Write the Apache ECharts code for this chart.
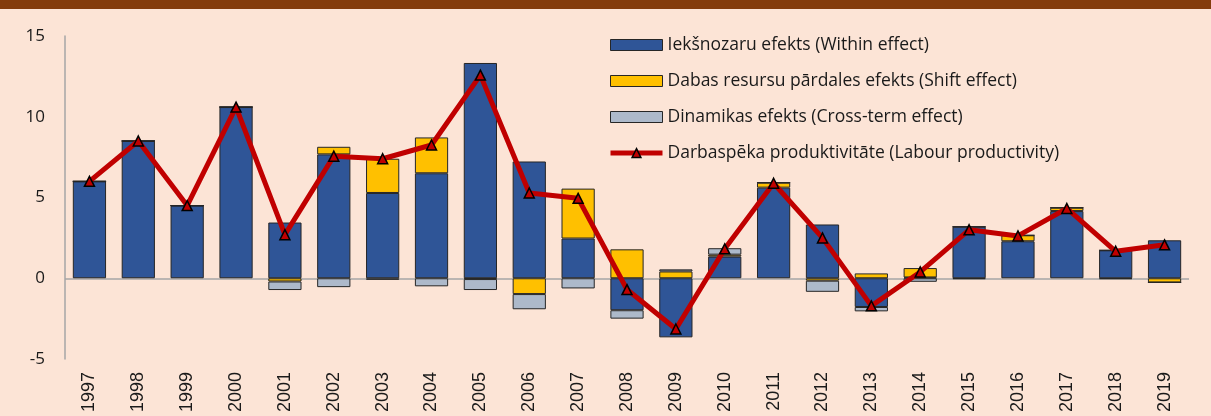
<!DOCTYPE html>
<html>
<head>
<meta charset="utf-8">
<script src="https://cdn.jsdelivr.net/npm/echarts@6/dist/echarts.min.js"></script>
<style>
  html, body { margin: 0; padding: 0; background: #FCE4D6; }
  #chart { width: 1211px; height: 416px; }
</style>
</head>
<body>
<div id="chart"></div>
<script>
var years = ["1997", "1998", "1999", "2000", "2001", "2002", "2003", "2004", "2005", "2006", "2007", "2008",
    "2009", "2010", "2011", "2012", "2013", "2014", "2015", "2016", "2017", "2018", "2019"];

// Iekšnozaru efekts (Within effect)
var withinEffect = [6.0, 8.5, 4.5, 10.6, 3.45, 7.67, 5.28, 6.5, 13.33, 7.23, 2.46, -1.98,
    -3.66, 1.34, 5.61, 3.33, -1.78, 0.05, 3.19, 2.29, 4.16, 1.73, 2.35];
// Dabas resursu pārdales efekts (Shift effect)
var shiftEffect = [0, 0, 0, 0, -0.2, 0.47, 2.12, 2.22, -0.05, -0.98, 3.09, 1.79,
    0.42, 0.12, 0.31, -0.15, 0.3, 0.58, 0, 0.37, 0.21, 0, -0.26];
// Dinamikas efekts (Cross-term effect)
var crossEffect = [0, 0, 0, 0, -0.53, -0.55, -0.1, -0.5, -0.68, -0.94, -0.63, -0.52,
    0.13, 0.4, 0, -0.69, -0.27, -0.22, -0.05, 0, 0, -0.05, 0];
// Darbaspēka produktivitāte (Labour productivity)
var labourProductivity = [6.0, 8.5, 4.5, 10.6, 2.7, 7.56, 7.4, 8.25, 12.58, 5.28, 4.95, -0.7,
    -3.14, 1.82, 5.88, 2.5, -1.71, 0.39, 3.0, 2.62, 4.32, 1.67, 2.07];

var yTicks = [-5, 0, 5, 10, 15];

var seriesNames = [
    "Iekšnozaru efekts (Within effect)",
    "Dabas resursu pārdales efekts (Shift effect)",
    "Dinamikas efekts (Cross-term effect)",
    "Darbaspēka produktivitāte (Labour productivity)"
];

var fontName = "'Open Sans', 'Noto Sans', sans-serif";

var myChart = echarts.init(document.getElementById('chart'));

function barSeries(name, data, color) {
    return {
        name: name,
        type: 'bar',
        stack: 'effects',
        data: data,
        barWidth: '68%',
        itemStyle: { color: color, borderColor: '#262626', borderWidth: 1 }
    };
}

var within = barSeries(seriesNames[0], withinEffect, '#2F5597');
// zero line across the plot
within.markLine = {
    silent: true,
    symbol: 'none',
    label: { show: false },
    lineStyle: { color: '#A6A6A6', type: 'solid', width: 1.5 },
    data: [{ yAxis: 0 }],
    z: 1
};

function legendBox(name) {
    return { name: name, icon: 'rect', itemStyle: { borderColor: '#262626', borderWidth: 1 } };
}

var option = {
    backgroundColor: '#FCE4D6',
    animation: false,
    textStyle: { fontFamily: fontName },
    graphic: [{
        type: 'rect',
        left: 0, top: 0,
        shape: { width: 1211, height: 9 },
        style: { fill: '#843C0C' }
    }],
    grid: { left: 65, right: 22, top: 36, bottom: 57 },
    legend: {
        orient: 'vertical',
        left: 603,
        top: 31,
        itemWidth: 52,
        itemHeight: 11,
        itemGap: 18,
        textStyle: { fontSize: 17.5, color: '#1a1a1a', fontFamily: fontName },
        data: [
            legendBox(seriesNames[0]),
            legendBox(seriesNames[1]),
            legendBox(seriesNames[2]),
            { name: seriesNames[3], lineStyle: { width: 5 }, itemStyle: { borderWidth: 1.5 } }
        ]
    },
    xAxis: {
        type: 'category',
        data: years,
        axisLine: { show: false, onZero: false },
        axisTick: { show: false },
        axisLabel: { rotate: 90, margin: 13, fontSize: 18, color: '#1a1a1a', fontFamily: "'Liberation Sans', Arial, sans-serif" }
    },
    yAxis: {
        type: 'value',
        min: yTicks[0],
        max: yTicks[yTicks.length - 1],
        interval: 5,
        axisLine: { show: true, lineStyle: { color: '#A6A6A6', width: 1.5 } },
        axisTick: { show: false },
        splitLine: { show: false },
        axisLabel: { fontSize: 17, color: '#1a1a1a', margin: 20, fontFamily: fontName }
    },
    series: [
        within,
        barSeries(seriesNames[1], shiftEffect, '#FFC000'),
        barSeries(seriesNames[2], crossEffect, '#ADB9CA'),
        {
            name: seriesNames[3],
            type: 'line',
            data: labourProductivity,
            z: 5,
            symbol: 'triangle',
            symbolSize: 10,
            lineStyle: { color: '#C00000', width: 5 },
            itemStyle: { color: '#C00000', borderColor: '#000000', borderWidth: 1.5 }
        }
    ]
};

myChart.setOption(option);
</script>
</body>
</html>
